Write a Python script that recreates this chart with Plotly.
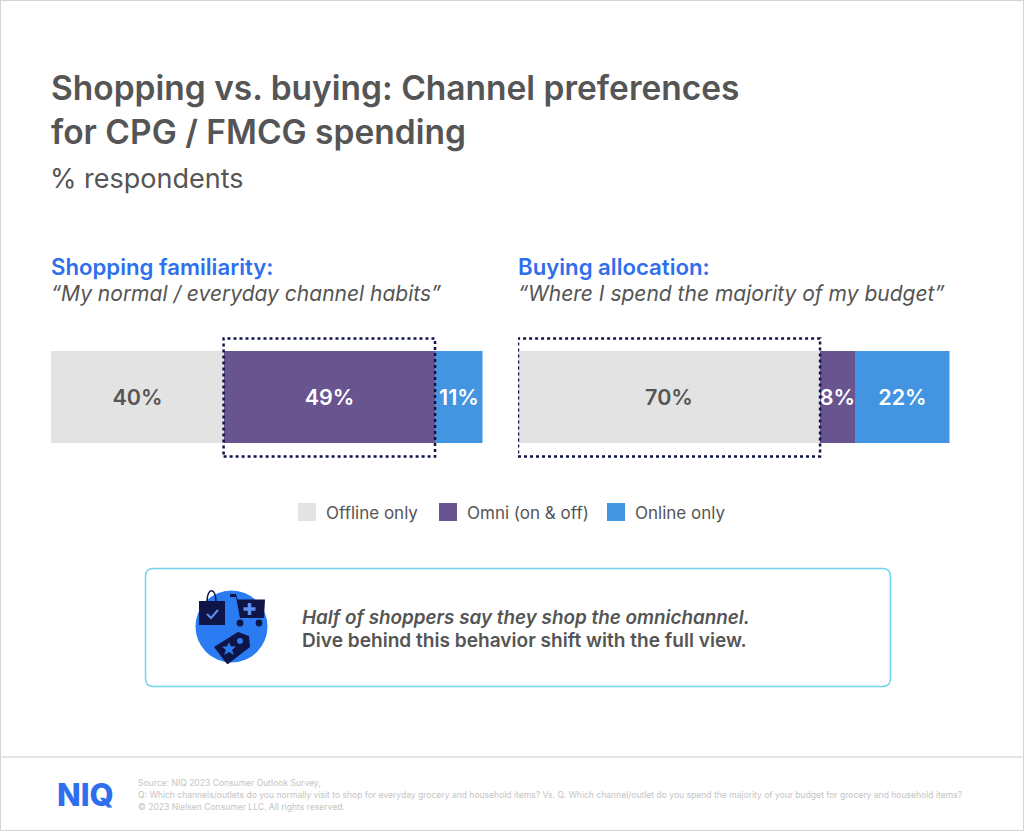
import plotly.graph_objects as go

W, H = 1024, 831
FONT = "Inter"
GREY_TEXT = "#555555"
BLUE = "#2f6fed"
NAVY = "#0f1547"
ICON_BLUE = "#2b7cf2"
ICON_LIGHT = "#5b93f5"

groups = ["Shopping familiarity", "Buying allocation"]
channels = ["Offline only", "Omni (on & off)", "Online only"]
channel_colors = ["#e3e3e3", "#68548f", "#4395e2"]
label_colors = [GREY_TEXT, "#ffffff", "#ffffff"]
shopping_values = [40, 49, 11]
buying_values = [70, 8, 22]
highlight_index = [1, 0]
legend_left = [298, 439, 607]

footer_lines = [
    "Source: NIQ 2023 Consumer Outlook Survey,",
    "Q: Which channels/outlets do you normally visit to shop for everyday grocery and household items? "
    "Vs. Q. Which channel/outlet do you spend the majority of your budget for grocery and household items?",
    "© 2023 Nielsen Consumer LLC. All rights reserved.",
]


def px(x):
    return x / W


def py(y):
    return 1 - y / H


def note(x, y, text, size, color=GREY_TEXT, weight=400, style="normal", anchor="left"):
    return dict(
        x=px(x), y=py(y), xref="paper", yref="paper", text=text, showarrow=False,
        xanchor=anchor, yanchor="middle", align="left",
        font=dict(family=FONT, size=size, color=color, weight=weight, style=style),
    )


def path(points, close=True):
    d = "M" + " L".join(f"{px(x):.5f},{py(y):.5f}" for x, y in points)
    return d + (" Z" if close else "")


def rounded(x0, y0, x1, y1, r):
    c = lambda x, y: f"{px(x):.5f},{py(y):.5f}"
    return (
        f"M{c(x0 + r, y0)} L{c(x1 - r, y0)} Q{c(x1, y0)} {c(x1, y0 + r)} "
        f"L{c(x1, y1 - r)} Q{c(x1, y1)} {c(x1 - r, y1)} L{c(x0 + r, y1)} "
        f"Q{c(x0, y1)} {c(x0, y1 - r)} L{c(x0, y0 + r)} Q{c(x0, y0)} {c(x0 + r, y0)} Z"
    )


def filled(d, color):
    return dict(type="path", xref="paper", yref="paper", path=d, fillcolor=color, line=dict(width=0))


def stroke(d, color, width):
    return dict(type="path", xref="paper", yref="paper", path=d, line=dict(color=color, width=width))


def circle(cx, cy, r, color):
    return dict(
        type="circle", xref="paper", yref="paper", x0=px(cx - r), x1=px(cx + r),
        y0=py(cy + r), y1=py(cy - r), fillcolor=color, line=dict(width=0),
    )


fig = go.Figure()
for i, name in enumerate(channels):
    for axis, values, group in [("x", shopping_values, groups[0]), ("x2", buying_values, groups[1])]:
        fig.add_trace(go.Bar(
            x=[values[i]], y=[group], orientation="h", name=name, xaxis=axis,
            yaxis="y" if axis == "x" else "y2",
            marker=dict(color=channel_colors[i], line=dict(width=0)),
            text=[f"{values[i]}%"], textposition="inside", insidetextanchor="middle",
            textangle=0, constraintext="none", cliponaxis=False,
            textfont=dict(family=FONT, size=21.5, color=label_colors[i], weight=600),
            showlegend=False, hoverinfo="skip",
        ))

shapes = [
    # page frame and footer rule
    dict(type="rect", xref="paper", yref="paper", x0=0, x1=1, y0=0, y1=1,
         line=dict(color="#d4d4d4", width=2), layer="below"),
    dict(type="line", xref="paper", yref="paper", x0=0, x1=1, y0=py(757), y1=py(757),
         line=dict(color="#dcdcdc", width=1.5)),
    # call-out box
    stroke(rounded(145.5, 568.5, 890.5, 686.5, 8), "#72d6ea", 1.5),
]

# dotted highlight around one segment of each bar
for axis, values, idx in [("x", shopping_values, highlight_index[0]), ("x2", buying_values, highlight_index[1])]:
    start = sum(values[:idx])
    shapes.append(dict(
        type="rect", xref=axis, yref="paper", x0=start, x1=start + values[idx],
        y0=py(456.5), y1=py(338.5), line=dict(color=NAVY, width=2.5, dash="dot"),
    ))

# shopping icon
handle = "M{0},{1} C{0},{2} {3},{2} {3},{1}".format(
    f"{px(207):.5f}", f"{py(602):.5f}", f"{py(587):.5f}", f"{px(216):.5f}")
shapes += [
    circle(231.5, 626.5, 36, ICON_BLUE),
    stroke(handle, NAVY, 1.5),
    filled(path([(199, 601), (225, 601), (225, 625), (199, 625)]), NAVY),
    stroke(path([(207, 614), (211, 618), (218, 610)], close=False), ICON_LIGHT, 2),
    filled(path([(230, 594), (236, 594), (237.5, 599.5), (265, 599.5), (264, 618), (240, 618),
                 (236, 597), (230, 597)]), NAVY),
    circle(240, 623, 3.4, NAVY),
    circle(259, 623, 3.4, NAVY),
    stroke(path([(243.5, 609), (255.5, 609)], close=False), ICON_LIGHT, 3.5),
    stroke(path([(249.5, 603), (249.5, 615)], close=False), ICON_LIGHT, 3.5),
    filled(path([(214, 647), (238, 632), (249, 636), (250, 647), (228, 664), (227, 664)]), NAVY),
    circle(240, 641, 3, ICON_BLUE),
    filled(path([(229, 642), (231, 646.5), (236, 646.5), (232, 650), (234, 655), (229, 652), (224, 655),
                 (226, 650), (222, 646.5), (227, 646.5)]), ICON_BLUE),
]

annotations = [
    note(48, 178, "% respondents", 27),
    note(49, 266, "Shopping familiarity:", 22.2, BLUE, 600),
    note(49, 294, "“My normal / everyday channel habits”", 21, GREY_TEXT, 400, "italic"),
    note(516, 266, "Buying allocation:", 22.2, BLUE, 600),
    note(516, 294, "“Where I spend the majority of my budget”", 21, GREY_TEXT, 400, "italic"),
    note(300, 617, "Half of shoppers say they shop the omnichannel.", 18.85, GREY_TEXT, 600, "italic"),
    note(300, 640, "Dive behind this behavior shift with the full view.", 19.1, GREY_TEXT, 600),
    note(55, 794, "NIQ", 31, BLUE, 800),
]
for y, line in zip([783, 795, 807], footer_lines):
    annotations.append(note(136, y, line, 8.55, "#c4c4c4"))

# legend
for name, color, left in zip(channels, channel_colors, legend_left):
    shapes.append(dict(
        type="rect", xref="paper", yref="paper", x0=px(left), x1=px(left + 18),
        y0=py(521), y1=py(503), fillcolor=color, line=dict(width=0),
    ))
    annotations.append(note(left + 26, 512.5, name, 17))

fig.update_layout(
    width=W, height=H, margin=dict(l=0, r=0, t=0, b=0),
    paper_bgcolor="#ffffff", plot_bgcolor="#ffffff",
    barmode="stack", bargap=0, font=dict(family=FONT, color=GREY_TEXT),
    showlegend=False,
    title=dict(
        text="Shopping vs. buying: Channel preferences<br>for CPG / FMCG spending",
        x=px(51), xanchor="left", y=py(100), yanchor="top",
        font=dict(family=FONT, size=33.5, color=GREY_TEXT, weight=600),
    ),
    xaxis=dict(domain=[px(51), px(482.5)], range=[0, 100], visible=False, fixedrange=True),
    xaxis2=dict(domain=[px(518), px(949.5)], range=[0, 100], visible=False, fixedrange=True),
    yaxis=dict(domain=[py(443), py(351)], visible=False, fixedrange=True),
    yaxis2=dict(domain=[py(443), py(351)], visible=False, fixedrange=True, anchor="x2"),
    shapes=shapes,
    annotations=annotations,
)

fig.write_html(
    "out.html",
    config={"displayModeBar": False},
    post_script="document.body.style.margin='0';",
)
